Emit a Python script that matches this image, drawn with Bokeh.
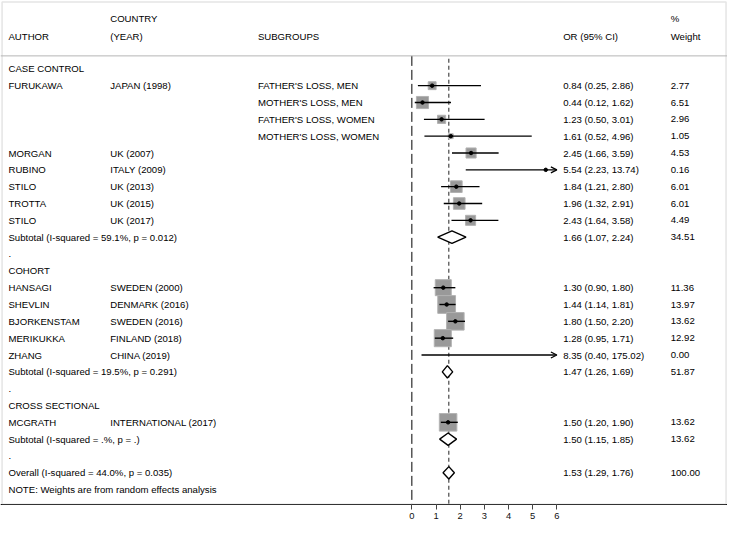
from bokeh.plotting import figure
from bokeh.models import Range1d, FixedTicker, ColumnDataSource, Span, Arrow, OpenHead, BoxAnnotation
from bokeh.embed import file_html
from bokeh.resources import INLINE
from bokeh.core.properties import value
import math

# ---------------- data ----------------
groups = ["CASE CONTROL", "COHORT", "CROSS SECTIONAL"]
study_group = [0, 0, 0, 0, 0, 0, 0, 0, 0, 1, 1, 1, 1, 1, 2]
authors = ["FURUKAWA", "", "", "", "MORGAN", "RUBINO", "STILO", "TROTTA", "STILO",
           "HANSAGI", "SHEVLIN", "BJORKENSTAM", "MERIKUKKA", "ZHANG", "MCGRATH"]
countries = ["JAPAN (1998)", "", "", "", "UK (2007)", "ITALY (2009)", "UK (2013)", "UK (2015)", "UK (2017)",
             "SWEDEN (2000)", "DENMARK (2016)", "SWEDEN (2016)", "FINLAND (2018)", "CHINA (2019)",
             "INTERNATIONAL (2017)"]
subgroups = ["FATHER'S LOSS, MEN", "MOTHER'S LOSS, MEN", "FATHER'S LOSS, WOMEN", "MOTHER'S LOSS, WOMEN",
             "", "", "", "", "", "", "", "", "", "", ""]
or_est = [0.84, 0.44, 1.23, 1.61, 2.45, 5.54, 1.84, 1.96, 2.43, 1.30, 1.44, 1.80, 1.28, 8.35, 1.50]
ci_lo = [0.25, 0.12, 0.50, 0.52, 1.66, 2.23, 1.21, 1.32, 1.64, 0.90, 1.14, 1.50, 0.95, 0.40, 1.20]
ci_hi = [2.86, 1.62, 3.01, 4.96, 3.59, 13.74, 2.80, 2.91, 3.58, 1.80, 1.81, 2.20, 1.71, 175.02, 1.90]
weights = [2.77, 6.51, 2.96, 1.05, 4.53, 0.16, 6.01, 6.01, 4.49, 11.36, 13.97, 13.62, 12.92, 0.00, 13.62]

subtotal_labels = ["Subtotal  (I-squared = 59.1%, p = 0.012)",
                   "Subtotal  (I-squared = 19.5%, p = 0.291)",
                   "Subtotal  (I-squared = .%, p = .)"]
sub_est = [1.66, 1.47, 1.50]
sub_lo = [1.07, 1.26, 1.15]
sub_hi = [2.24, 1.69, 1.85]
sub_w = [34.51, 51.87, 13.62]

overall_label = "Overall  (I-squared = 44.0%, p = 0.035)"
overall_est, overall_lo, overall_hi, overall_w = 1.53, 1.29, 1.76, 100.00
note = "NOTE: Weights are from random effects analysis"

x_ticks = [0, 1, 2, 3, 4, 5, 6]
null_value = 0

# ---------------- layout of rows ----------------
rows_study, rows_sub, rows_group, rows_dot = [], [], [], []
r = 0
for g in range(len(groups)):
    rows_group.append(r); r += 1
    for sg in study_group:
        if sg == g:
            rows_study.append(r); r += 1
    rows_sub.append(r); r += 1
    rows_dot.append(r); r += 1
row_overall = r; r += 1
row_note = r

# column positions (OR units) and row positions of decorations
X_AUTH, X_CTRY, X_SUBG, X_OR, X_W = -16.69, -12.48, -6.37, 6.26, 10.71
Y_HEAD1, Y_HEAD2 = -2.98, -1.9
Y_SEP = -0.77
Y_AXIS = 25.86
X_START, X_END = -17.02, 13.06
Y_TOP, Y_BOT = -4.06, 27.01
xmax = x_ticks[-1]

FONT = value("Liberation Sans")
FS = "9.6px"
TXT = "#000000"

p = figure(width=727, height=523, output_backend="svg", toolbar_location=None,
           x_range=Range1d(X_START, X_END), y_range=Range1d(Y_BOT, Y_TOP),
           y_axis_location=None, min_border_left=0, min_border_right=0,
           min_border_top=0, min_border_bottom=0)
p.grid.visible = False
p.outline_line_color = None
p.background_fill_color = "white"
p.border_fill_color = "white"

ax = p.xaxis[0]
ax.fixed_location = Y_AXIS
ax.ticker = FixedTicker(ticks=x_ticks)
ax.axis_line_color = "black"
ax.axis_line_width = 1
ax.major_tick_in = 0
ax.major_tick_out = 5
ax.major_tick_line_color = "#444444"
ax.minor_tick_line_color = None
ax.major_label_text_font = "Liberation Sans"
ax.major_label_text_font_size = "9.4px"
ax.major_label_text_color = "#111111"
ax.major_label_standoff = 4

# frame & header separator
p.add_layout(BoxAnnotation(left=-16.955, right=13.0, top=-3.97, bottom=Y_AXIS,
                           fill_alpha=0, line_color="#aaaaaa", line_width=1.5))
p.add_layout(Span(location=Y_SEP, dimension="width", line_color="#b5b5b5", line_width=1))

# reference lines
p.segment(x0=[null_value], y0=[Y_SEP], x1=[null_value], y1=[Y_AXIS],
          line_color="black", line_width=1, line_dash="10 4")
p.segment(x0=[overall_est], y0=[-0.6], x1=[overall_est], y1=[Y_AXIS],
          line_color="#222222", line_width=1, line_dash="4 3")

def txt(xs, ys, texts, align="left"):
    p.text(x=xs, y=ys, text=texts, text_font=FONT, text_font_size=FS,
           text_baseline="middle", text_align=align, text_color=TXT)

# header texts
txt([X_CTRY, X_W], [Y_HEAD1, Y_HEAD1], ["COUNTRY", "%"])
txt([X_AUTH, X_CTRY, X_SUBG, X_OR, X_W], [Y_HEAD2] * 5,
    ["AUTHOR", "(YEAR)", "SUBGROUPS", "OR (95% CI)", "Weight"])

# group headers and dots
txt([X_AUTH] * len(groups), rows_group, groups)
txt([X_AUTH] * len(rows_dot), rows_dot, ["."] * len(rows_dot))

# study text
txt([X_AUTH] * len(authors), rows_study, authors)
txt([X_CTRY] * len(countries), rows_study, countries)
txt([X_SUBG] * len(subgroups), rows_study, subgroups)
or_txt = [f"{e:.2f} ({l:.2f}, {h:.2f})" for e, l, h in zip(or_est, ci_lo, ci_hi)]
txt([X_OR] * len(or_txt), rows_study, or_txt)
txt([X_W] * len(weights), rows_study, [f"{w:.2f}" for w in weights])

# subtotal / overall text
txt([X_AUTH] * 3, rows_sub, subtotal_labels)
txt([X_OR] * 3, rows_sub, [f"{e:.2f} ({l:.2f}, {h:.2f})" for e, l, h in zip(sub_est, sub_lo, sub_hi)])
txt([X_W] * 3, rows_sub, [f"{w:.2f}" for w in sub_w])
txt([X_AUTH], [row_overall], [overall_label])
txt([X_OR], [row_overall], [f"{overall_est:.2f} ({overall_lo:.2f}, {overall_hi:.2f})"])
txt([X_W], [row_overall], [f"{overall_w:.2f}"])
txt([X_AUTH], [row_note], [note])

# boxes (area proportional to weight)
box_src = ColumnDataSource(dict(x=or_est, y=rows_study,
                                s=[4.75 * math.sqrt(w) for w in weights]))
p.scatter(x="x", y="y", size="s", source=box_src, marker="square",
          fill_color="#999999", line_color="#b2b2b2", line_width=1)

# CI lines (clipped at the axis end with an arrow)
seg_x0, seg_x1, seg_y = [], [], []
arr_x0, arr_x1, arr_y = [], [], []
for l, h, yy in zip(ci_lo, ci_hi, rows_study):
    if h > xmax:
        arr_x0.append(l); arr_x1.append(xmax); arr_y.append(yy)
    else:
        seg_x0.append(l); seg_x1.append(h); seg_y.append(yy)
p.segment(x0=seg_x0, y0=seg_y, x1=seg_x1, y1=seg_y, line_color="black", line_width=1.4)
arr_src = ColumnDataSource(dict(x0=arr_x0, x1=arr_x1, y=arr_y))
p.add_layout(Arrow(end=OpenHead(size=6, line_width=1.2, line_color="black"),
                   x_start="x0", y_start="y", x_end="x1", y_end="y",
                   line_width=1.4, line_color="black", source=arr_src))

# point estimates
dx = [e for e in or_est if e <= xmax]
dy = [yy for e, yy in zip(or_est, rows_study) if e <= xmax]
p.scatter(x=dx, y=dy, size=3.5, marker="circle", fill_color="black", line_color="black")

# pooled diamonds
H = 0.37
d_est = sub_est + [overall_est]
d_lo = sub_lo + [overall_lo]
d_hi = sub_hi + [overall_hi]
d_row = rows_sub + [row_overall]
p.patches(xs=[[l, e, h, e] for l, e, h in zip(d_lo, d_est, d_hi)],
          ys=[[yy, yy - H, yy, yy + H] for yy in d_row],
          fill_color="white", line_color="black", line_width=1.4)

open("out.html", "w").write(file_html(p, INLINE))
